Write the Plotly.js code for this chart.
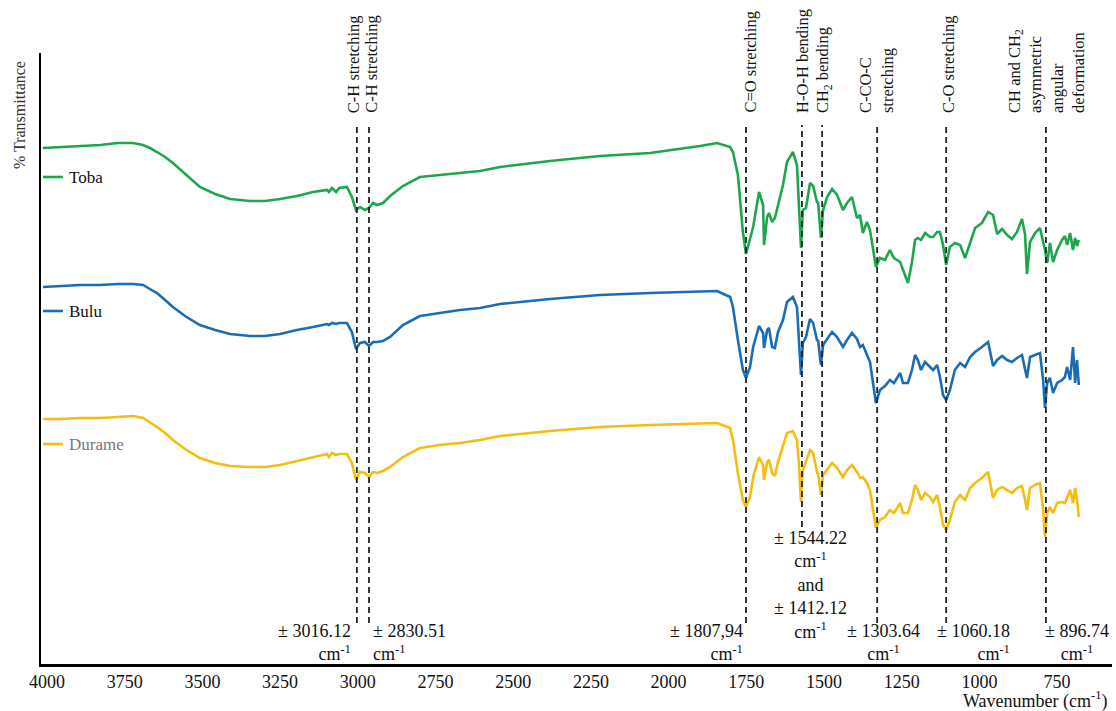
<!DOCTYPE html>
<html>
<head>
<meta charset="utf-8">
<script src="https://cdn.plot.ly/plotly-3.0.1.min.js"></script>
<style>html,body{margin:0;padding:0;background:#fff;}#chart{width:1116px;height:711px;}</style>
</head>
<body>
<div id="chart"></div>
<script>
// Wavenumber (cm-1) sample positions
const wavenumber = [4013,3958,3894,3829,3772,3723,3691,3669,3646,3620,3595,3556,3508,3459,3411,3347,3299,3250,3196,3144,
3099,3093,3083,3070,3060,3035,3019,3006,2993,2977,2964,2951,2938,2919,2896,2855,2800,2736,2671,2607,
2542,2382,2221,2060,1899,1844,1802,1793,1777,1761,1751,1738,1728,1709,1696,1693,1683,1677,1667,1658,
1648,1632,1619,1600,1587,1580,1574,1568,1558,1545,1535,1522,1519,1510,1503,1490,1474,1458,1439,1426,
1410,1394,1384,1375,1362,1352,1333,1320,1304,1288,1275,1255,1246,1230,1217,1207,1198,1188,1175,1159,
1149,1136,1127,1117,1107,1095,1079,1062,1046,1030,1014,992,972,956,943,927,911,895,879,863,
853,847,837,821,805,795,789,782,773,763,750,734,725,718,708,699,692,686,680];

// % Transmittance (arbitrary units, curves offset)
const toba = [516,517,518,519,521,521,519,516,512,507,501,490,477,470,465,463,463,465,468,472,
474,472,476,472,476,477,467,454,457,454,456,461,459,461,468,478,487,489,491,493,
497,503,508,511,518,521,517,512,489,432,410,424,437,472,459,419,447,451,442,446,
459,479,502,512,499,454,416,454,456,481,478,461,462,426,454,467,475,469,454,461,
467,446,449,431,442,434,397,406,404,414,406,402,394,381,402,424,426,424,431,427,
427,432,432,419,399,417,421,419,406,421,436,441,452,449,430,435,429,425,432,445,
429,390,422,431,436,422,414,401,421,402,414,424,428,419,431,414,426,418,424];

const bulu = [377,378,379,379,380,380,379,375,371,364,357,348,339,334,330,328,328,330,334,337,
340,339,341,340,341,341,332,315,321,322,318,322,322,323,327,339,348,351,354,356,
360,365,369,371,372,373,367,357,324,294,286,297,317,338,331,316,334,336,317,316,
332,344,362,367,357,324,289,321,327,345,341,323,324,299,319,325,332,327,317,324,
331,325,317,319,309,302,261,274,278,284,281,291,281,281,294,309,304,294,302,297,
294,299,287,269,264,274,294,301,297,307,312,317,322,298,304,308,304,302,306,309,
294,286,307,309,311,284,256,281,286,271,281,284,287,297,284,317,281,304,279];

const durame = [245,245,246,246,247,248,246,242,237,231,224,215,206,201,198,197,197,199,203,207,
210,207,211,209,210,210,201,184,192,191,187,192,191,193,197,207,216,219,221,224,
228,233,237,239,241,241,236,224,191,164,157,167,187,207,199,184,202,204,191,188,
202,219,231,233,224,197,162,194,202,214,211,191,191,169,189,194,201,196,187,194,
199,192,186,187,181,174,136,144,147,154,151,161,151,151,164,179,174,164,171,167,
162,169,157,139,134,144,162,169,164,176,181,186,192,166,174,177,174,171,176,178,
164,154,176,179,181,154,127,151,157,151,161,162,161,167,174,161,176,164,147];

const seriesNames = ["Toba", "Bulu", "Durame"];
const tickValues = [4000,3750,3500,3250,3000,2750,2500,2250,2000,1750,1500,1250,1000,750];
const tickLabels = ["4000","3750","3500","3250","3000","2750","2500","2250","2000","1750","1500","1250","1000","750"];

// Marked bands
const bandLines = [3003, 2964, 1751, 1571, 1506, 1329, 1107, 786];
const topLabels = [
  {x: 3015, text: "C-H stretching"},
  {x: 2958, text: "C-H stretching"},
  {x: 1738, text: "C=O stretching"},
  {x: 1571, text: "H-O-H bending"},
  {x: 1503, text: "CH<sub>2</sub> bending"},
  {x: 1334, text: "C-CO-C<br>stretching"},
  {x: 1101, text: "C-O stretching"},
  {x: 786, text: "CH and CH<sub>2</sub><br>asymmetric<br>angular<br>deformation"}
];
const bottomLabels = [
  {x: 3015, y: 21.5, text: "± 3016.12<br>cm<sup>-1</sup>", anchor: "right"},
  {x: 2958, y: 21.5, text: "± 2830.51<br>cm<sup>-1</sup>", anchor: "left"},
  {x: 1754, y: 21.5, text: "± 1807,94<br>cm<sup>-1</sup>", anchor: "right"},
  {x: 1545, y: 79, text: "± 1544.22<br>cm<sup>-1</sup><br>and<br>± 1412.12<br>cm<sup>-1</sup>", anchor: "center"},
  {x: 1310, y: 21.5, text: "± 1303.64<br>cm<sup>-1</sup>", anchor: "center"},
  {x: 895, y: 21.5, text: "± 1060.18<br>cm<sup>-1</sup>", anchor: "right"},
  {x: 686, y: 21.5, text: "± 896.74<br>cm<sup>-1</sup>", anchor: "center"}
];

const colors = ["#1ea64f", "#1a6db5", "#f5bd10"];
const FONT = "'Liberation Serif', 'DejaVu Serif', 'Times New Roman', Times, serif";

const traces = [toba, bulu, durame].map((vals, i) => ({
  type: "scatter", mode: "lines", x: wavenumber, y: vals, name: seriesNames[i],
  line: {color: colors[i], width: 2.6}, hoverinfo: "skip"
}));

const shapes = [];
bandLines.forEach((b, i) => {
  shapes.push({type: "line", xref: "x", yref: "y", x0: b, x1: b,
    y0: (i === 3 || i === 4) ? 137 : 41, y1: 539,
    line: {color: "#222", width: 1.8, dash: "6px,4px"}});
});
const legendY = [487, 353, 220];
legendY.forEach((y, i) => {
  shapes.push({type: "line", xref: "x", yref: "y", x0: 4013, x1: 3949, y0: y, y1: y,
    line: {color: colors[i], width: 2.6}});
});

const annotations = [];
topLabels.forEach(t => annotations.push({
  xref: "x", yref: "y", x: t.x, y: 549, text: t.text, textangle: -90, showarrow: false,
  xanchor: "center", yanchor: "bottom", align: "left",
  font: {family: FONT, size: 16.5, color: "#111"}
}));
bottomLabels.forEach(t => annotations.push({
  xref: "x", yref: "y", x: t.x, y: t.y, text: t.text, showarrow: false,
  xanchor: t.anchor, yanchor: "middle", align: t.anchor === "center" ? "center" : t.anchor,
  font: {family: FONT, size: 18, color: "#111"}
}));
seriesNames.forEach((n, i) => annotations.push({
  xref: "x", yref: "y", x: 3936, y: legendY[i], text: n, showarrow: false,
  xanchor: "left", yanchor: "middle",
  font: {family: FONT, size: 17, color: i === 2 ? "#777" : "#111"}
}));
annotations.push({
  xref: "paper", yref: "paper", x: -0.0205, y: 0.8985, text: "% Transmittance",
  textangle: -90, showarrow: false, xanchor: "center", yanchor: "middle",
  font: {family: FONT, size: 16, color: "#333"}
});
annotations.push({
  xref: "paper", yref: "paper", x: 0.998, y: -0.059, text: "Wavenumber (cm<sup>-1</sup>)",
  showarrow: false, xanchor: "right", yanchor: "middle",
  font: {family: FONT, size: 18, color: "#111"}
});

const layout = {
  width: 1116, height: 711,
  margin: {l: 41, r: 4, t: 53, b: 47},
  paper_bgcolor: "#fff", plot_bgcolor: "#fff",
  showlegend: false,
  font: {family: FONT},
  xaxis: {range: [4019.3, 573.4], showgrid: false, zeroline: false, showline: true,
    linecolor: "#000", linewidth: 2.5, ticks: "", tickvals: tickValues, ticktext: tickLabels,
    tickfont: {family: FONT, size: 18, color: "#111"}, fixedrange: true},
  yaxis: {range: [0, 611], showgrid: false, zeroline: false, showline: true,
    linecolor: "#000", linewidth: 2.5, ticks: "", showticklabels: false, fixedrange: true},
  shapes: shapes,
  annotations: annotations
};

Plotly.newPlot("chart", traces, layout, {displayModeBar: false, staticPlot: true});
</script>
</body>
</html>
